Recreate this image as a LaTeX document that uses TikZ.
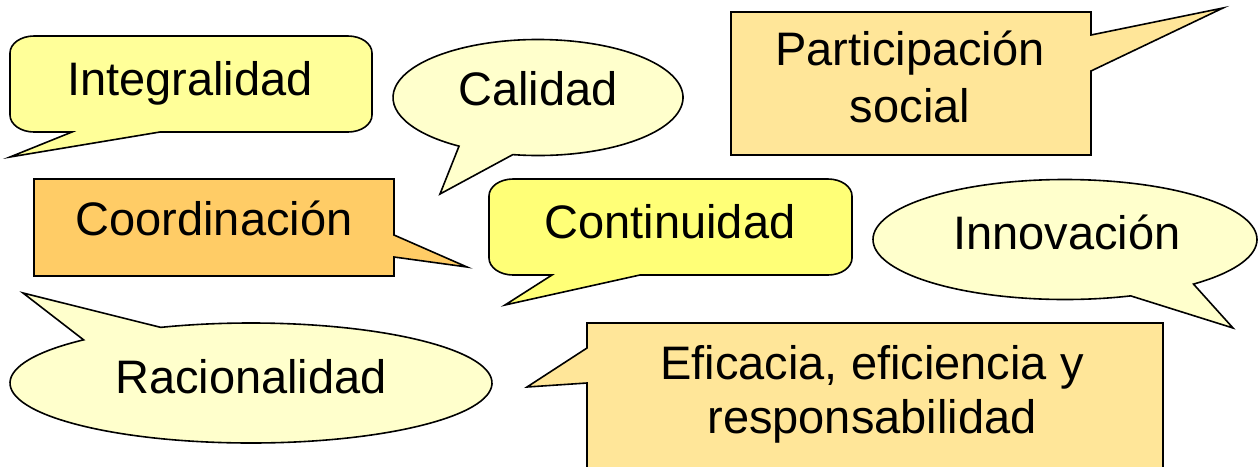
\documentclass[tikz,border=0pt]{standalone}
\usepackage{fontspec}
\setmainfont{Liberation Sans}
\definecolor{yelA}{HTML}{FFFF99}
\definecolor{yelB}{HTML}{FFFF77}
\definecolor{pale}{HTML}{FFFFCC}
\definecolor{peach}{HTML}{FFE699}
\definecolor{orng}{HTML}{FFCC66}
\tikzset{
  bubble/.style={draw=black, line width=1.6pt, line join=miter},
  lbl/.style={anchor=base, inner sep=0pt, font=\fontsize{47}{56}\selectfont, text=black}
}
\begin{document}
\begin{tikzpicture}[x=1pt,y=1pt]
\useasboundingbox (0,0) rectangle (1260,-466);
\fill[white] (0,0) rectangle (1260,-466);

% Integralidad (rounded callout, tail bottom-left)
\draw[bubble, fill=yelA] (72,-132) -- (34,-132)
  arc[start angle=270, end angle=180, x radius=24pt, y radius=17pt] -- (10,-53)
  arc[start angle=180, end angle=90, x radius=24pt, y radius=17pt] -- (348,-36)
  arc[start angle=90, end angle=0, x radius=24pt, y radius=17pt] -- (372,-115)
  arc[start angle=0, end angle=-90, x radius=24pt, y radius=17pt] -- (160,-132)
  -- (10,-157) -- cycle;
\node[lbl] (integ) at (190,-95) {Integralidad};

% Calidad (oval callout)
\draw[bubble, fill=pale] ([shift={(260:145pt and 58pt)}]538,-97.5)
  arc[start angle=260, end angle=597, x radius=145pt, y radius=58pt]
  -- (440,-194) -- cycle;
\node[lbl] (cal) at (538,-105) {Calidad};

% Participacion social (rectangular callout, tail up-right)
\draw[bubble, fill=peach] (731,-12) -- (1091,-12) -- (1091,-35) -- (1223,-8)
  -- (1091,-71) -- (1091,-155) -- (731,-155) -- cycle;
\node[lbl] (part1) at (910,-65) {Participación};
\node[lbl] (part2) at (910,-122) {social};

% Coordinacion (rectangular callout, tail right)
\draw[bubble, fill=orng] (34,-179) -- (394,-179) -- (394,-235) -- (467,-267)
  -- (394,-257) -- (394,-276) -- (34,-276) -- cycle;
\node[lbl] (coord) at (214,-235) {Coordinación};

% Continuidad (rounded callout, tail bottom-left)
\draw[bubble, fill=yelB] (552,-275) -- (513,-275)
  arc[start angle=270, end angle=180, x radius=24pt, y radius=17pt] -- (489,-196)
  arc[start angle=180, end angle=90, x radius=24pt, y radius=17pt] -- (828,-179)
  arc[start angle=90, end angle=0, x radius=24pt, y radius=17pt] -- (852,-258)
  arc[start angle=0, end angle=-90, x radius=24pt, y radius=17pt] -- (640,-275)
  -- (505,-305) -- cycle;
\node[lbl] (cont) at (670,-238) {Continuidad};

% Innovacion (oval callout, tail bottom-right)
\draw[bubble, fill=pale] ([shift={(312:192pt and 60pt)}]1065,-239.5)
  arc[start angle=312, end angle=650, x radius=192pt, y radius=60pt]
  -- (1233,-328) -- cycle;
\node[lbl] (innov) at (1067,-249) {Innovación};

% Racionalidad (oval callout, tail top-left)
\draw[bubble, fill=pale] ([shift={(134:241pt and 60pt)}]251,-383)
  arc[start angle=134, end angle=472, x radius=241pt, y radius=60pt]
  -- (23,-293) -- cycle;
\node[lbl] (racio) at (251,-393) {Racionalidad};

% Eficacia (rectangular callout, tail left)
\draw[bubble, fill=peach] (587,-323) -- (1163,-323) -- (1163,-480) -- (587,-480)
  -- (587,-383) -- (527,-387) -- (587,-348) -- cycle;
\node[lbl] (efic1) at (872,-379) {Eficacia, eficiencia y};
\node[lbl] (efic2) at (872,-433) {responsabilidad};
\end{tikzpicture}
\end{document}
